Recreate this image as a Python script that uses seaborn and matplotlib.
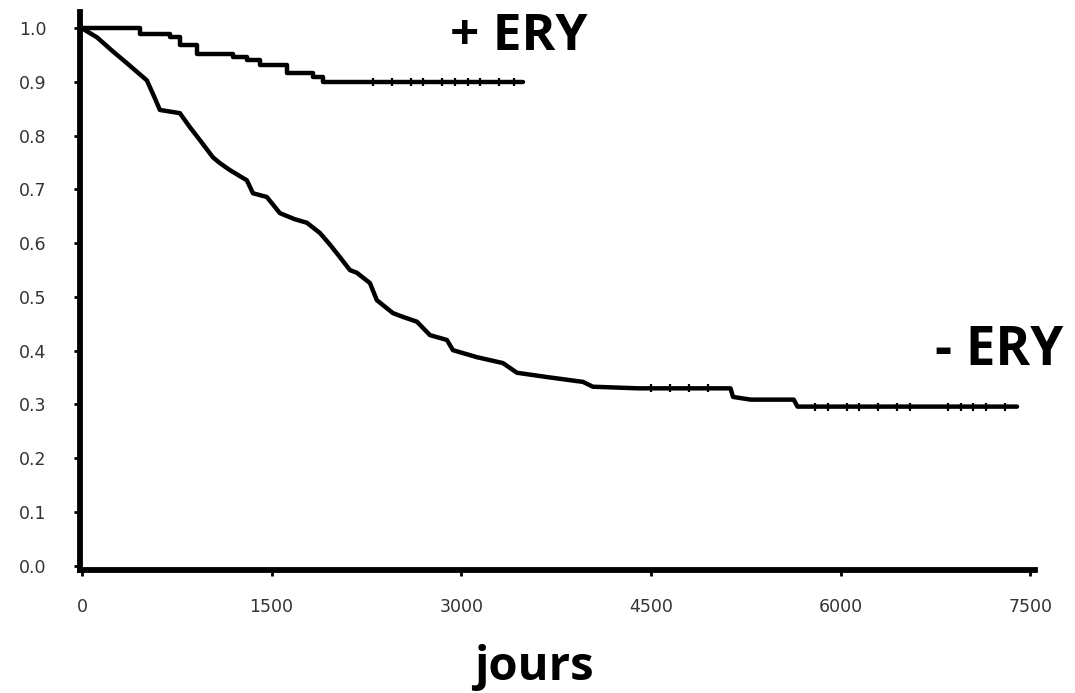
import numpy as np
import pandas as pd
import seaborn as sns
import matplotlib.pyplot as plt

# survival curves (days, proportion)
ery_pos_days = [0, 460, 700, 780, 910, 1195, 1305, 1410, 1620, 1830, 1905, 3490]
ery_pos_surv = [1.0, 0.989, 0.984, 0.968, 0.953, 0.946, 0.94, 0.931, 0.916, 0.909, 0.900, 0.900]

ery_neg_days = [0, 120, 240, 356, 440, 514, 577, 617, 775, 854, 933, 1036, 1092, 1171,
                1305, 1353, 1463, 1566, 1680, 1780, 1883, 1960, 2041, 2120, 2175, 2278,
                2333, 2460, 2550, 2650, 2753, 2887, 2935, 3124, 3330, 3441, 3678, 3963,
                4042, 4400, 5130, 5150, 5290, 5630, 5660, 7396]
ery_neg_surv = [1.0, 0.983, 0.958, 0.935, 0.918, 0.903, 0.87, 0.848, 0.842, 0.816, 0.792,
                0.76, 0.749, 0.736, 0.717, 0.693, 0.686, 0.656, 0.645, 0.638, 0.619, 0.598,
                0.574, 0.55, 0.545, 0.526, 0.494, 0.470, 0.462, 0.454, 0.429, 0.42, 0.401,
                0.388, 0.377, 0.359, 0.351, 0.342, 0.333, 0.330, 0.330, 0.314, 0.309,
                0.309, 0.296, 0.296]

# censored observations (tick marks on the flat parts)
ery_pos_censor = [2300, 2450, 2600, 2700, 2850, 2950, 3050, 3150, 3300, 3420]
ery_neg_censor = [4500, 4650, 4800, 4950, 5800, 5900, 6050, 6150, 6300, 6450, 6550,
                  6850, 6950, 7050, 7150, 7300]

x_ticks = [0, 1500, 3000, 4500, 6000, 7500]
y_ticks = [0.0, 0.1, 0.2, 0.3, 0.4, 0.5, 0.6, 0.7, 0.8, 0.9, 1.0]


def step_value(days, surv, t):
    idx = np.searchsorted(days, t, side='right') - 1
    return np.asarray(surv)[idx]


sns.set_style("ticks")
plt.rcParams['font.family'] = ['DejaVu Sans']

fig = plt.figure(figsize=(10.75, 6.93), dpi=100)
ax = fig.add_axes([0.0744, 0.1775, 0.8886, 0.805])

# + ERY : step curve
pos = pd.DataFrame({'jours': ery_pos_days, 'survie': ery_pos_surv})
sns.lineplot(data=pos, x='jours', y='survie', drawstyle='steps-post', color='black',
             lw=3.2, estimator=None, sort=False, ax=ax)
pos_c = pd.DataFrame({'jours': ery_pos_censor,
                      'survie': step_value(ery_pos_days, ery_pos_surv, ery_pos_censor)})
sns.scatterplot(data=pos_c, x='jours', y='survie', marker='|', s=28, color='black',
                linewidth=1.6, ax=ax, zorder=3)

# - ERY : jagged descending curve
neg = pd.DataFrame({'jours': ery_neg_days, 'survie': ery_neg_surv})
sns.lineplot(data=neg, x='jours', y='survie', color='black', lw=3.2,
             estimator=None, sort=False, ax=ax)
neg_c = pd.DataFrame({'jours': ery_neg_censor,
                      'survie': np.interp(ery_neg_censor, ery_neg_days, ery_neg_surv)})
sns.scatterplot(data=neg_c, x='jours', y='survie', marker='|', s=28, color='black',
                linewidth=1.6, ax=ax, zorder=3)

ax.set_xlim(-15, 7540)
ax.set_ylim(-0.008, 1.03)
ax.set_xticks(x_ticks)
ax.set_yticks(y_ticks)
ax.set_yticklabels([f'{v:.1f}' for v in y_ticks])
ax.set_xlabel('')
ax.set_ylabel('')

sns.despine(ax=ax)
for s in ['left', 'bottom']:
    ax.spines[s].set_linewidth(4.2)
    ax.spines[s].set_color('black')

ax.tick_params(axis='both', direction='out', length=4, width=2, color='black',
               labelcolor='#333333', labelsize=12.5)
ax.tick_params(axis='y', pad=20)
ax.tick_params(axis='x', pad=16)

txt = dict(fontfamily='Open Sans', fontweight='bold', color='black')
fig.text(0.4186, 0.928, '+ ERY', fontsize=37, ha='left', va='baseline', **txt)
fig.text(0.870, 0.4733, '- ERY', fontsize=38, ha='left', va='baseline', **txt)
fig.text(0.497, 0.0188, 'jours', fontsize=34, ha='center', va='baseline', **txt)

plt.savefig('out.png', dpi=100)
